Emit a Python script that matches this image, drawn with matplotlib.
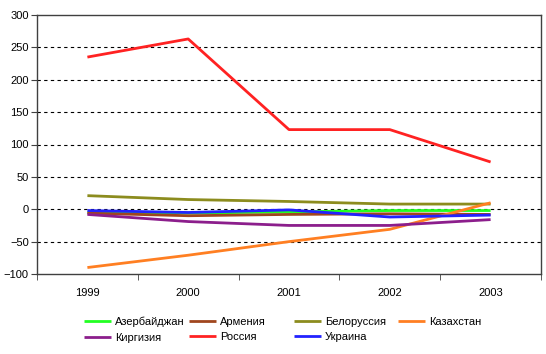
import matplotlib.pyplot as plt

plt.rcParams['font.family'] = ['Liberation Sans', 'DejaVu Sans']

years = ['1999', '2000', '2001', '2002', '2003']

azerbaijan = [-5, -6, -4, -2, -2]
armenia = [-6, -10, -8, -7, -8]
belarus = [21, 15, 12, 8, 8]
kazakhstan = [-90, -71, -50, -31, 10]
kirgizia = [-8, -19, -25, -25, -16]
russia = [235, 263, 123, 123, 73]
ukraine = [-2, -5, -1, -12, -9]

names = ['Азербайджан', 'Армения', 'Белоруссия', 'Казахстан',
         'Киргизия', 'Россия', 'Украина']
series = [azerbaijan, armenia, belarus, kazakhstan, kirgizia, russia, ukraine]
colors = ['#22FF22', '#A0461E', '#8C8C1E', '#FF7F22',
          '#8C1E8C', '#FF2222', '#2222FF']

fig = plt.figure(figsize=(5.46, 3.54), dpi=100)
ax = fig.add_axes([37 / 546, 80 / 354, 504 / 546, 259 / 354])

x = list(range(len(years)))
lines = []
for vals, name, c in zip(series, names, colors):
    ln, = ax.plot(x, vals, color=c, lw=2, label=name, solid_capstyle='butt')
    lines.append(ln)

ax.set_xlim(-0.5, len(years) - 0.5)
ax.set_ylim(-100, 300)
ax.set_yticks(range(-100, 301, 50))
for yv in range(-50, 300, 50):
    ax.axhline(yv, color='black', lw=0.8, ls=(0, (3, 3)), zorder=0)

# подписи категорий по центру, засечки между категориями
ax.set_xticks(x)
ax.set_xticklabels(years)
ax.tick_params(axis='x', length=0, pad=10, labelsize=8)
ax.set_xticks([i + 0.5 for i in range(-1, len(years))], minor=True)
ax.tick_params(axis='x', which='minor', length=4, direction='out', color='#404040')
ax.tick_params(axis='y', length=4, direction='out', labelsize=8, color='#404040', pad=2)

for s in ax.spines.values():
    s.set_color('#404040')
    s.set_linewidth(1)

# легенда: 4 колонки с одинаковым шагом, как в Excel
col_x = [84, 189, 294, 398]
for j, cx in enumerate(col_x):
    idx = [i for i in (j, j + 4) if i < len(names)]
    leg = fig.legend([lines[i] for i in idx], [names[i] for i in idx],
                     loc='upper left', bbox_to_anchor=((cx - 6) / 546, 1 - 311 / 354),
                     frameon=False, fontsize=8, handlelength=2.5, handletextpad=0.3,
                     labelspacing=0.5, borderpad=0)

plt.savefig('out.png', dpi=100)
plt.close()
